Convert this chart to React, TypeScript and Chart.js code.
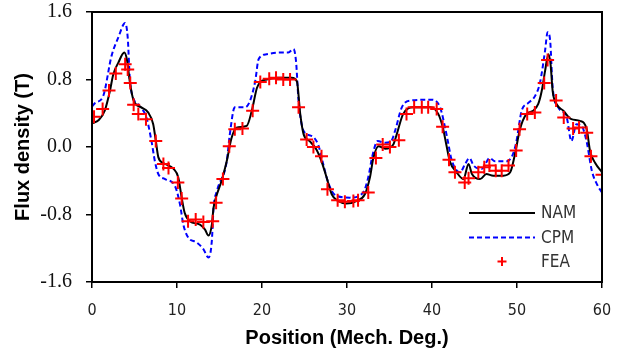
import React, { useEffect, useRef } from "react";
import { Chart, registerables } from "chart.js";

Chart.register(...registerables);

const X_TICKS = [0, 10, 20, 30, 40, 50, 60];
const Y_TICKS = [-1.6, -0.8, 0.0, 0.8, 1.6];

const NAM_X = [0, 0.8, 1.5, 2.1, 2.5, 3.1, 3.8, 4.1, 4.5, 4.9, 5.8, 6.6, 7.2, 7.5, 7.8, 8.4, 9.6, 10.15, 10.55, 10.9, 11.5, 12.7, 13.3, 13.7, 14.1, 14.3, 14.7, 15.25, 15.85, 16.4, 17.0, 18.2, 18.8, 19.4, 19.8, 20.55, 21.7, 23.5, 24.1, 24.5, 24.9, 25.6, 26.4, 27.0, 27.6, 28.2, 28.95, 29.95, 31.1, 32.1, 32.7, 33.1, 33.7, 34.5, 35.45, 35.85, 36.6, 37.8, 39.8, 40.75, 41.3, 41.7, 42.1, 42.9, 43.7, 44.3, 44.7, 45.65, 46.4, 47.2, 48.4, 49.2, 49.75, 50.35, 51.1, 51.9, 52.5, 52.9, 53.3, 53.7, 53.95, 54.2, 54.65, 55.45, 56.4, 57.4, 58.2, 58.6, 59.2, 60];
const NAM_Y = [0.28, 0.32, 0.43, 0.66, 0.86, 1.0, 1.12, 1.04, 0.74, 0.55, 0.47, 0.41, 0.27, 0.08, -0.12, -0.19, -0.26, -0.36, -0.6, -0.78, -0.88, -0.92, -0.98, -1.05, -0.92, -0.72, -0.56, -0.4, -0.17, 0.1, 0.23, 0.25, 0.43, 0.7, 0.77, 0.8, 0.82, 0.82, 0.78, 0.39, 0.15, 0.07, -0.03, -0.17, -0.36, -0.56, -0.64, -0.67, -0.64, -0.56, -0.36, -0.13, 0.01, -0.02, 0.03, 0.15, 0.39, 0.47, 0.47, 0.39, 0.22, 0.02, -0.17, -0.3, -0.38, -0.2, -0.32, -0.38, -0.32, -0.34, -0.34, -0.3, -0.09, 0.21, 0.39, 0.43, 0.51, 0.66, 0.9, 1.1, 0.98, 0.66, 0.51, 0.43, 0.33, 0.31, 0.21, -0.05, -0.19, -0.3];

const CPM_X = [0, 0.35, 1.3, 2.3, 3.1, 3.9, 4.2, 4.5, 5.45, 6.4, 7.0, 7.4, 7.8, 8.6, 9.75, 10.35, 10.75, 11.3, 12.3, 13.1, 13.7, 14.1, 14.3, 14.7, 15.85, 16.2, 16.8, 18.0, 18.6, 19.2, 19.6, 20.55, 22.1, 23.1, 23.7, 24.0, 24.3, 24.9, 25.85, 26.6, 27.2, 27.6, 28.2, 28.8, 30.35, 31.9, 32.5, 33.0, 33.6, 34.5, 35.2, 35.65, 36.45, 37.4, 39.95, 40.95, 41.6, 41.9, 42.3, 43.3, 43.9, 44.4, 44.9, 45.85, 46.8, 47.4, 48.8, 49.5, 49.9, 50.55, 51.3, 52.1, 52.7, 53.3, 53.6, 53.9, 54.2, 54.85, 55.85, 56.4, 57.0, 57.6, 58.2, 58.8, 59.4, 60];
const CPM_Y = [0.48, 0.52, 0.6, 1.08, 1.3, 1.47, 1.3, 0.74, 0.5, 0.35, 0.07, -0.17, -0.32, -0.38, -0.46, -0.68, -0.92, -1.07, -1.13, -1.21, -1.31, -1.11, -0.72, -0.52, -0.17, 0.14, 0.47, 0.47, 0.55, 0.78, 1.04, 1.1, 1.12, 1.12, 1.16, 1.02, 0.55, 0.19, 0.13, 0.03, -0.2, -0.36, -0.52, -0.58, -0.6, -0.54, -0.36, -0.1, 0.07, 0.05, 0.07, 0.19, 0.47, 0.55, 0.56, 0.47, 0.2, 0.05, -0.15, -0.3, -0.2, -0.13, -0.22, -0.26, -0.13, -0.17, -0.17, -0.09, 0.05, 0.43, 0.52, 0.6, 0.76, 1.14, 1.36, 1.26, 0.7, 0.47, 0.35, 0.07, 0.27, 0.25, 0.06, -0.28, -0.44, -0.54];

const FEA_X = [0.24, 1.25, 2.0, 2.8, 3.9, 4.2, 4.5, 4.9, 5.45, 6.35, 7.5, 8.4, 9.0, 10.1, 10.55, 11.3, 12.2, 13.1, 14.2, 14.6, 15.4, 16.15, 16.8, 17.7, 18.9, 19.8, 20.85, 21.65, 22.5, 23.3, 24.3, 25.25, 26.05, 27.0, 27.7, 28.9, 29.75, 30.75, 31.3, 32.5, 33.4, 34.2, 35.05, 36.1, 37.0, 37.9, 38.8, 39.55, 40.55, 41.25, 42.0, 42.7, 43.85, 44.3, 45.45, 46.15, 46.75, 47.5, 48.2, 49.0, 49.9, 50.3, 51.2, 52.1, 53.2, 53.6, 54.6, 55.5, 56.6, 57.3, 58.2, 58.7, 60];
const FEA_Y = [0.36, 0.45, 0.67, 0.87, 0.98, 0.92, 0.76, 0.5, 0.39, 0.33, 0.07, -0.2, -0.25, -0.42, -0.61, -0.88, -0.86, -0.89, -0.88, -0.66, -0.38, 0.01, 0.21, 0.22, 0.43, 0.77, 0.81, 0.82, 0.8, 0.8, 0.47, 0.09, 0.0, -0.11, -0.5, -0.63, -0.65, -0.64, -0.63, -0.54, -0.13, 0.03, 0.0, 0.08, 0.39, 0.47, 0.47, 0.47, 0.45, 0.24, -0.15, -0.3, -0.42, -0.37, -0.3, -0.24, -0.22, -0.28, -0.28, -0.22, -0.04, 0.21, 0.39, 0.41, 0.76, 1.03, 0.55, 0.35, 0.22, 0.23, 0.17, -0.11, -0.33];

const SERIES_NAMES = ["NAM", "CPM", "FEA"];

const pts = (xs: number[], ys: number[]) => xs.map((x, i) => ({ x, y: ys[i] }));

const framePlugin = {
  id: "frame",
  afterDatasetsDraw(chart: any) {
    const { ctx, chartArea: a } = chart;
    ctx.save();
    ctx.strokeStyle = "#000";
    ctx.lineWidth = 2;
    ctx.strokeRect(a.left, a.top, a.right - a.left, a.bottom - a.top);
    ctx.restore();
  },
};

const legendPlugin = {
  id: "insideLegend",
  afterDraw(chart: any) {
    const { ctx, chartArea: a } = chart;
    const x0 = a.right - 133;
    const x1 = a.right - 67;
    const tx = a.right - 61;
    const rows = [a.bottom - 69, a.bottom - 44.5, a.bottom - 20.5];
    ctx.save();
    ctx.font = "17px 'DejaVu Sans Condensed', 'DejaVu Sans', sans-serif";
    ctx.fillStyle = "#333";
    ctx.textBaseline = "middle";
    chart.data.datasets.forEach((ds: any, i: number) => {
      const y = rows[i];
      if (ds.showLine === false) {
        const cx = (x0 + x1) / 2;
        ctx.strokeStyle = ds.borderColor;
        ctx.lineWidth = 2;
        ctx.setLineDash([]);
        ctx.beginPath();
        ctx.moveTo(cx - 4.5, y);
        ctx.lineTo(cx + 4.5, y);
        ctx.moveTo(cx, y - 4.5);
        ctx.lineTo(cx, y + 4.5);
        ctx.stroke();
      } else {
        ctx.strokeStyle = ds.borderColor;
        ctx.lineWidth = ds.borderWidth;
        ctx.setLineDash(ds.borderDash || []);
        ctx.beginPath();
        ctx.moveTo(x0, y);
        ctx.lineTo(x1, y);
        ctx.stroke();
      }
      ctx.setLineDash([]);
      ctx.fillText(ds.label, tx, y + 1);
    });
    ctx.restore();
  },
};

export default function App() {
  const ref = useRef<HTMLCanvasElement | null>(null);
  useEffect(() => {
    if (!ref.current) return;
    const chart = new Chart(ref.current, {
      type: "scatter",
      data: {
        datasets: [
          {
            label: SERIES_NAMES[0],
            data: pts(NAM_X, NAM_Y),
            showLine: true,
            borderColor: "#000000",
            borderWidth: 2,
            pointRadius: 0,
            cubicInterpolationMode: "monotone",
            order: 1,
          },
          {
            label: SERIES_NAMES[1],
            data: pts(CPM_X, CPM_Y),
            showLine: true,
            borderColor: "#0000ff",
            borderWidth: 2,
            borderDash: [5, 3],
            pointRadius: 0,
            cubicInterpolationMode: "monotone",
            order: 2,
          },
          {
            label: SERIES_NAMES[2],
            data: pts(FEA_X, FEA_Y),
            showLine: false,
            borderColor: "#ff0000",
            backgroundColor: "#ff0000",
            borderWidth: 2,
            pointStyle: "cross",
            pointRadius: 6.5,
            order: 0,
          },
        ] as any,
      },
      options: {
        animation: false,
        responsive: false,
        layout: { padding: { top: 12, right: 21, left: 0, bottom: 0 } },
        plugins: { legend: { display: false }, tooltip: { enabled: false } },
        scales: {
          x: {
            type: "linear",
            min: X_TICKS[0],
            max: X_TICKS[X_TICKS.length - 1],
            afterBuildTicks: (s: any) => {
              s.ticks = X_TICKS.map((v) => ({ value: v }));
            },
            afterFit: (s: any) => {
              s.height = 74;
              s.paddingLeft = 0;
              s.paddingRight = 0;
            },
            ticks: {
              color: "#222",
              padding: 13,
              font: { family: "'DejaVu Sans Condensed', 'DejaVu Sans', sans-serif", size: 16 },
              callback: (v: any) => String(v),
            },
            grid: { drawOnChartArea: false, drawTicks: true, tickLength: 6, color: "#000", lineWidth: 1.5 },
            border: { display: true, color: "#000", width: 2 },
            title: {
              display: true,
              text: "Position (Mech. Deg.)",
              color: "#000",
              font: { family: "'Liberation Sans', Arial, sans-serif", size: 20, weight: "bold" },
              padding: { top: 0, bottom: 6 },
            },
          },
          y: {
            type: "linear",
            min: Y_TICKS[0],
            max: Y_TICKS[Y_TICKS.length - 1],
            afterBuildTicks: (s: any) => {
              s.ticks = Y_TICKS.map((v) => ({ value: v }));
            },
            afterFit: (s: any) => {
              s.width = 92;
              s.paddingTop = 0;
              s.paddingBottom = 0;
            },
            ticks: {
              color: "#111",
              padding: 14,
              font: { family: "'Liberation Serif', 'Times New Roman', serif", size: 20 },
              callback: (v: any) => Number(v).toFixed(1),
            },
            grid: { drawOnChartArea: false, drawTicks: true, tickLength: 6, color: "#000", lineWidth: 1.5 },
            border: { display: true, color: "#000", width: 2 },
            title: {
              display: true,
              text: "Flux density (T)",
              color: "#000",
              font: { family: "'Liberation Sans', Arial, sans-serif", size: 20, weight: "bold" },
              padding: { top: 11, bottom: 0 },
            },
          },
        },
      },
      plugins: [framePlugin, legendPlugin],
    } as any);
    return () => chart.destroy();
  }, []);
  return (
    <div style={{ position: "absolute", left: 0, top: 0, width: 623, height: 356, background: "#fff" }}>
      <canvas ref={ref} width={623} height={356} />
    </div>
  );
}
